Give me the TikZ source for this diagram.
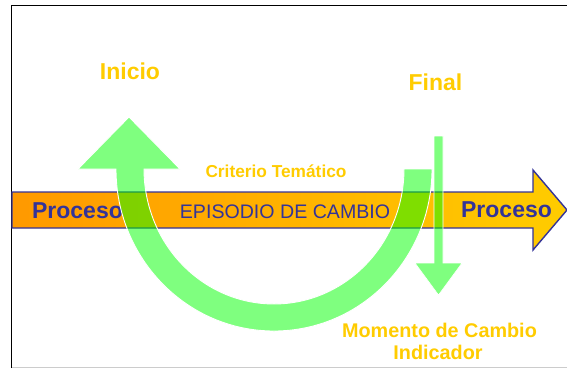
\documentclass[tikz,border=0pt]{standalone}
\usepackage{fontspec}
\setmainfont{Liberation Sans}
\definecolor{procblue}{HTML}{333399}
\definecolor{labyellow}{HTML}{FFCC00}
\definecolor{procorange}{HTML}{FF9900}
\definecolor{procyellow}{HTML}{FFCC00}
\definecolor{greenfill}{HTML}{00FF00}
\begin{document}
\begin{tikzpicture}[x=1pt,y=-1pt,
  greenshape/.style={fill=greenfill,fill opacity=0.5,draw=white,line width=0.9pt},
  ylabel/.style={text=labyellow,font=\bfseries,inner sep=0pt,anchor=base},
  blabel/.style={text=procblue,inner sep=0pt,anchor=base}]
\useasboundingbox (0,0) rectangle (567,368);
\fill[white] (0,0) rectangle (567,368);
% frame
\draw[black!20,line width=1pt] (11,367.5) -- (567,367.5);
\draw[black,line width=1.6pt] (11.5,368) -- (11.5,5.5) -- (567,5.5);
% process arrow
\path[shade,left color=procorange,right color=procyellow,draw=procblue,line width=1.4pt]
  (12,192) -- (533,192) -- (533,170) -- (567,210) -- (533,250) -- (533,228) -- (12,228) -- cycle;
\node[blabel,font=\bfseries\fontsize{23}{26}\selectfont] (p1) at (77.5,218) {Proceso};
\node[blabel,font=\bfseries\fontsize{23}{26}\selectfont] (p2) at (506.5,217) {Proceso};
\node[blabel,font=\fontsize{19.6}{22}\selectfont] (ep) at (285,218) {EPISODIO DE CAMBIO};
% green U arrow
\path[greenshape] (129,117) -- (180,169) -- (144,169)
  arc[start angle=180,end angle=0,x radius=130,y radius=135]
  -- (432,169)
  arc[start angle=0,end angle=180,x radius=158,y radius=162]
  -- (78,169) -- cycle;
% green vertical arrow
\path[greenshape,line width=0.6pt] (434,136) -- (443,136) -- (443,263) -- (462,263) -- (438.5,295)
  -- (415,263) -- (434,263) -- cycle;
% labels
\node[ylabel,font=\bfseries\fontsize{23}{26}\selectfont] (ini) at (130,79) {Inicio};
\node[ylabel,font=\bfseries\fontsize{23}{26}\selectfont] (fin) at (435.5,90) {Final};
\node[ylabel,font=\bfseries\fontsize{17.3}{20}\selectfont] (crit) at (276,177) {Criterio Temático};
\node[ylabel,font=\bfseries\fontsize{19.8}{22}\selectfont] (mom) at (439.5,337) {Momento de Cambio};
\node[ylabel,font=\bfseries\fontsize{19.8}{22}\selectfont] (ind) at (438,359) {Indicador};
\end{tikzpicture}
\end{document}
